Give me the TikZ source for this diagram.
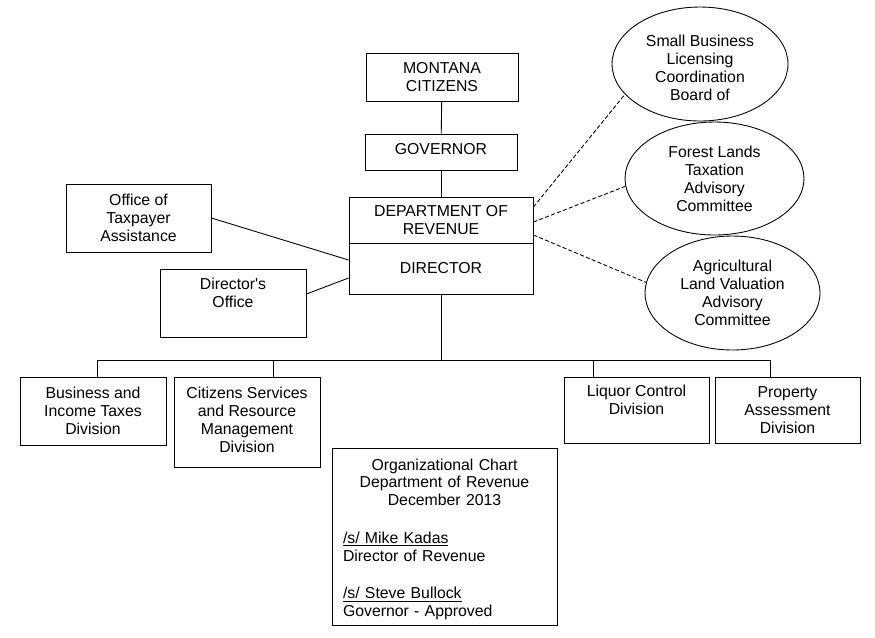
\documentclass[tikz,border=0pt]{standalone}
\usepackage{fontspec}
\setmainfont{Liberation Sans}
\usetikzlibrary{shapes.geometric}

\tikzset{
  box/.style={draw, line width=0.5pt, align=center, inner sep=0pt},
  oval/.style={draw, ellipse, line width=0.5pt, align=center, inner sep=0pt},
  txt/.style={align=center, inner sep=0pt},
  link/.style={line width=0.5pt},
  dotlink/.style={line width=0.5pt, dash pattern=on 2.3pt off 1.3pt}
}

\begin{document}
\begin{tikzpicture}[x=0.02cm, y=-0.02cm, font=\fontsize{9}{10.2}\selectfont]
  \useasboundingbox (0,0) rectangle (875,637);

  %% top of the chain
  \node[box, minimum width=3.04cm, minimum height=0.96cm] (citizens) at (442,77) {MONTANA\\CITIZENS};
  \node[box, minimum width=3.04cm, minimum height=0.72cm] (governor) at (441,152) {};
  \node[txt, yshift=0.05cm] (govtxt) at (governor) {GOVERNOR};
  \node[box, minimum width=3.68cm, minimum height=0.92cm] (dept) at (441,220) {DEPARTMENT OF\\REVENUE};
  \node[box, minimum width=3.68cm, minimum height=1.02cm] (director) at (441,268.5) {DIRECTOR};

  %% offices on the left
  \node[box, minimum width=2.9cm, minimum height=1.36cm] (ota) at (138.5,218) {Office of\\Taxpayer\\Assistance};
  \node[box, minimum width=2.92cm, minimum height=1.36cm] (doff) at (233,303) {};
  \node[txt, anchor=north, yshift=-0.19cm] (dofftxt) at (doff.north) {Director\textquotesingle s\\Office};

  %% boards and committees
  \node[oval, minimum width=3.52cm, minimum height=2.28cm] (sbl) at (700,64) {};
  \node[txt, yshift=-0.07cm] (sbltxt) at (sbl) {Small Business\\Licensing\\Coordination\\Board of};
  \node[oval, minimum width=3.58cm, minimum height=2.26cm] (flt) at (714.5,178.5) {Forest Lands\\Taxation\\Advisory\\Committee};
  \node[oval, minimum width=3.5cm, minimum height=2.28cm] (alv) at (732.5,293) {Agricultural\\Land Valuation\\Advisory\\Committee};

  %% divisions
  \node[box, minimum width=2.92cm, minimum height=1.36cm] (bit) at (93,411) {Business and\\Income Taxes\\Division};
  \node[box, minimum width=2.92cm, minimum height=1.8cm] (css) at (247,422) {};
  \node[txt, yshift=0.04cm] (csstxt) at (css) {Citizens Services\\and Resource\\Management\\Division};
  \node[box, minimum width=2.9cm, minimum height=1.32cm] (lcd) at (636.5,410) {};
  \node[txt, anchor=north, yshift=-0.17cm] (lcdtxt) at (lcd.north) {Liquor Control\\Division};
  \node[box, minimum width=2.9cm, minimum height=1.32cm] (pad) at (787.5,410) {Property\\Assessment\\Division};

  %% signature block
  \node[box, minimum width=4.5cm, minimum height=3.54cm] (note) at (444.5,536.5) {};
  \node[txt, text width=4.06cm, align=left, yshift=-0.05cm] (notetxt) at (note)
    {{\centering Organizational Chart\\Department of Revenue\\December 2013\par}
     \vspace{11pt}
     \underline{/s/ Mike Kadas}\\Director of Revenue\par
     \vspace{11pt}
     \underline{/s/ Steve Bullock}\\Governor - Approved};

  %% connectors
  \draw[link] (citizens) -- (governor);
  \draw[link] (governor) -- (dept);
  \draw[link] (ota.east) -- ([yshift=0.17cm]director.west);
  \draw[link] ([yshift=0.18cm]doff.east) -- ([yshift=-0.19cm]director.west);

  \draw[dotlink] ([yshift=0.26cm]dept.east) -- (sbl.202);
  \draw[dotlink] ([yshift=-0.04cm]dept.east) -- (flt.185);
  \draw[dotlink] ([yshift=-0.3cm]dept.east) -- (alv.173);

  \coordinate (bus) at (441,360);
  \draw[link] (director.south) -- (bus);
  \foreach \n/\dx in {bit/0.08, css/0.52, lcd/-0.87, pad/-0.35}
    \draw[link] (bus) -| ([xshift=\dx cm]\n.north);
\end{tikzpicture}
\end{document}
